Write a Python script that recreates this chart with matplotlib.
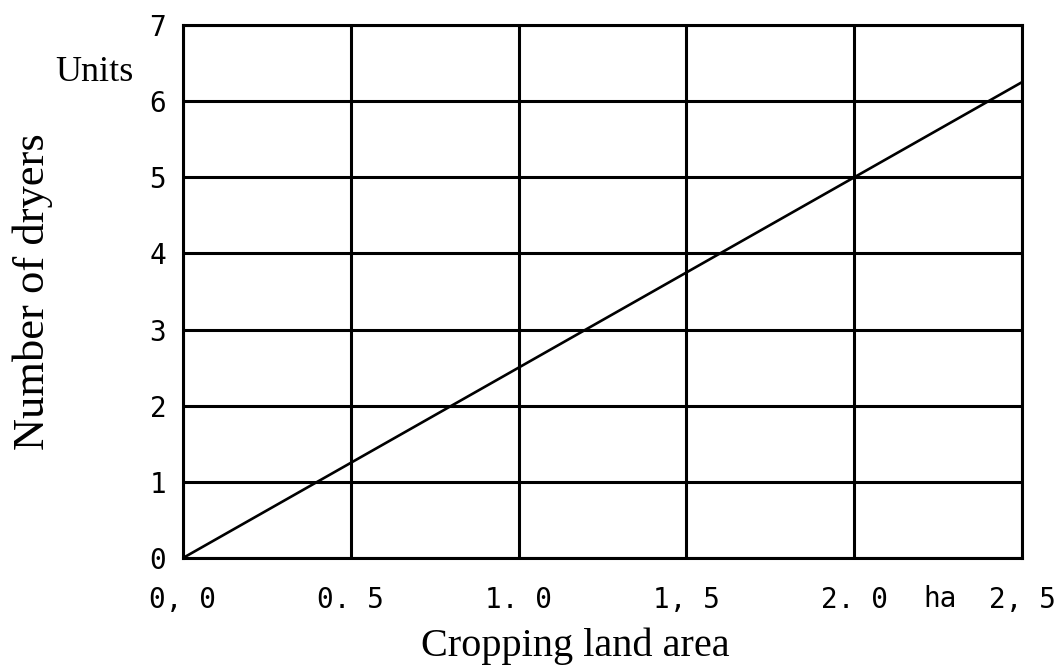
import matplotlib.pyplot as plt
import numpy as np

# cropping land area (ha) vs number of dryers needed
area = [0.0, 0.4, 0.8, 1.2, 1.6, 2.0, 2.4, 2.5]
dryers = [0, 1, 2, 3, 4, 5, 6, 6.25]

x_ticks = [0.0, 0.5, 1.0, 1.5, 2.0, 2.5]
x_tick_labels = ["0, 0", "0. 5", "1. 0", "1, 5", "2. 0", "2, 5"]
y_ticks = [0, 1, 2, 3, 4, 5, 6, 7]
y_tick_labels = ["0", "1", "2", "3", "4", "5", "6", "7"]

serif = "Liberation Serif"
mono = "DejaVu Sans Mono"

fig = plt.figure(figsize=(10.6, 6.69), dpi=100)
ax = fig.add_axes([0.1726, 0.1659, 0.7916, 0.7967])

ax.plot(area, dryers, color="black", linewidth=1.9, zorder=3)

ax.set_xlim(0, 2.5)
ax.set_ylim(0, 7)
ax.set_xticks(x_ticks)
ax.set_xticklabels(x_tick_labels, fontfamily=mono, fontsize=20)
ax.set_yticks(y_ticks)
ax.set_yticklabels(y_tick_labels, fontfamily=mono, fontsize=20)
ax.tick_params(axis="x", length=0, pad=20)
ax.tick_params(axis="y", length=0, pad=12)

ax.grid(True, color="black", linewidth=2.2)
for spine in ax.spines.values():
    spine.set_linewidth(2.2)
    spine.set_color("black")

ax.set_ylabel("Number of dryers", fontfamily=serif, fontsize=32, va="center")
ax.yaxis.set_label_coords(-0.179, 0.5)
ax.set_xlabel("Cropping land area", fontfamily=serif, fontsize=29, va="center")
ax.xaxis.set_label_coords(0.467, -0.165)

ax.text(-0.105, 6.38, "Units", transform=ax.get_yaxis_transform(),
        fontfamily=serif, fontsize=26, ha="center", va="center")
ax.text(2.255, -0.077, "ha", transform=ax.get_xaxis_transform(),
        fontfamily=mono, fontsize=20, ha="center", va="center")

fig.savefig("out.png", dpi=100)
